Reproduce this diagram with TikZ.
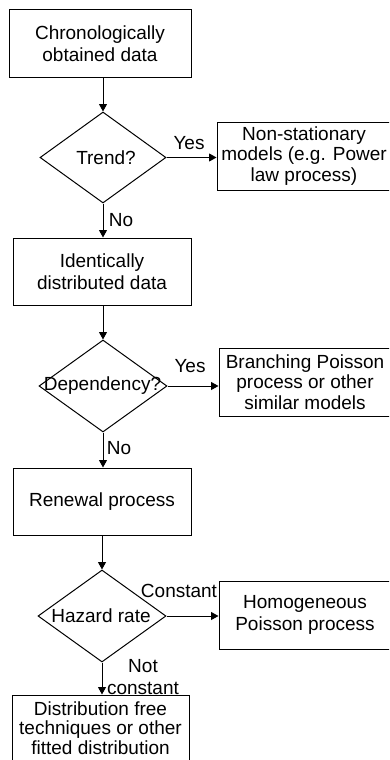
\documentclass[tikz,border=0pt]{standalone}
\usepackage{fontspec}
\setmainfont{Liberation Sans}
\usetikzlibrary{shapes.geometric,arrows.meta}

\tikzset{
  base/.style={font=\fontsize{19}{21.5}\selectfont, align=center, inner sep=0pt},
  procbox/.style={base, draw, line width=1pt, rectangle},
  decision/.style={draw, line width=1pt, diamond, inner sep=0pt, shape aspect=1},
  arr/.style={line width=1pt, -{Triangle[length=7.5pt,width=8pt]}},
  lbl/.style={base}
}

\begin{document}
\begin{tikzpicture}[x=1pt,y=-1pt]
  \clip (0,0) rectangle (389,760);

  % main column
  \node[procbox, minimum width=182, minimum height=67] (b1) at (100,43.5)
    {Chronologically\\obtained data};
  \node[decision, minimum width=126, minimum height=91] (d1) at (103,157.5) {};
  \node[base] (t1) at (106,157.5) {Trend?};

  \node[procbox, minimum width=178, minimum height=67] (b2) at (102,271.5)
    {Identically\\distributed data};
  \node[decision, minimum width=128, minimum height=92] (d2) at (103,386) {};
  \node[base] (t2) at (102.5,386) {Dependency?};

  \node[procbox, minimum width=178, minimum height=67] (b3) at (102,501.5)
    {Renewal process};
  \node[decision, minimum width=128, minimum height=92] (d3) at (102,616) {};
  \node[base] (t3) at (101,616) {Hazard rate};

  \node[procbox, minimum width=177, minimum height=66, font=\fontsize{19}{19.5}\selectfont]
    (b4) at (100.5,728) {Distribution free\\techniques or other\\fitted distribution};

  % side branch boxes
  \node[procbox, minimum width=174, minimum height=68, font=\fontsize{19}{20.5}\selectfont]
    (r1) at (304,156) {Non-stationary\\models (e.g. Power\\law process)};
  \node[procbox, minimum width=172, minimum height=68, font=\fontsize{19}{20.5}\selectfont]
    (r2) at (305,382) {Branching Poisson\\process or other\\similar models};
  \node[procbox, minimum width=172, minimum height=68] (r3) at (305,615)
    {Homogeneous\\Poisson process};

  % connectors
  \draw[arr] (d1.north |- b1.south) -- (d1.north);
  \draw[arr] (d1.east) -- (d1.east -| r1.west);
  \draw[arr] (d1.south) -- (d1.south |- b2.north);
  \draw[arr] (d2.north |- b2.south) -- (d2.north);
  \draw[arr] (d2.east) -- (d2.east -| r2.west);
  \draw[arr] (d2.south) -- (d2.south |- b3.north);
  \draw[arr] (d3.north |- b3.south) -- (d3.north);
  \draw[arr] (d3.east) -- (d3.east -| r3.west);
  \draw[arr] (d3.south) -- (d3.south |- b4.north);

  % branch labels
  \node[lbl] (y1) at (189,143) {Yes};
  \node[lbl] (n1) at (121,220) {No};
  \node[lbl] (y2) at (190,366) {Yes};
  \node[lbl] (n2) at (119,448) {No};
  \node[lbl] (c3) at (179,591) {Constant};
  \node[lbl] (n3) at (143,677) {Not\\constant};
\end{tikzpicture}
\end{document}
